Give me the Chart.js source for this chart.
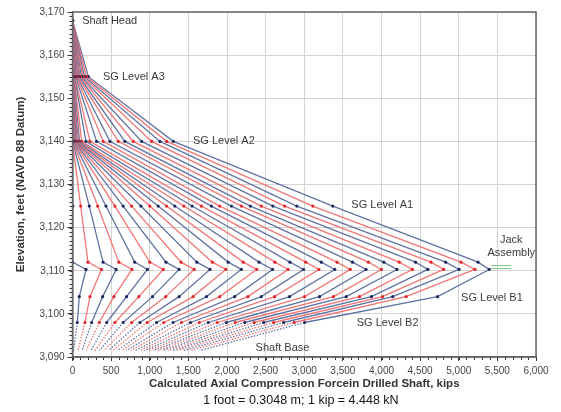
<!DOCTYPE html>
<html>
<head>
<meta charset="utf-8">
<script src="https://cdn.jsdelivr.net/npm/chart.js@4.4.0/dist/chart.umd.min.js"></script>
<style>
  html, body { margin: 0; padding: 0; background: #fff; }
</style>
</head>
<body>
<canvas id="myChart" width="561" height="412"></canvas>
<script>
// elevation of each measuring level (feet): head, A3, A2, A1, jack top, jack bottom, B1, B2, base
const levelElevations = [3168, 3155, 3140, 3125, 3112, 3110.3, 3104, 3098, 3091.5];

// load at each level (kips), one value per load increment
const headLoad = [0, 0, 0, 0, 0, 0, 0, 0, 0, 0, 0, 0, 0, 0, 0, 0, 0, 0, 0, 0, 0, 0, 0, 0, 0, 0, 0];
const a3Load = [0, 0, 0, 0, 0, 0, 0, 0, 3, 5, 8, 10, 15, 20, 25, 30, 40, 50, 60, 70, 85, 100, 115, 135, 155, 180, 205];
const a2Load = [0, 0, 3, 6, 10, 16, 22, 30, 39, 49, 61, 75, 91, 119, 174, 226, 312, 398, 484, 592, 678, 786, 895, 1024, 1132, 1219, 1305];
const a1Load = [5, 106, 217, 326, 433, 549, 656, 765, 885, 1001, 1109, 1217, 1324, 1441, 1548, 1669, 1798, 1906, 2057, 2186, 2302, 2444, 2594, 2745, 2904, 3111, 3370];
const jackTopLoad = [0, 200, 395, 600, 805, 1000, 1210, 1405, 1610, 1810, 2015, 2210, 2415, 2620, 2815, 3020, 3220, 3425, 3625, 3830, 4030, 4230, 4440, 4640, 4830, 5030, 5250];
const jackBottomLoad = [175, 375, 565, 770, 970, 1175, 1380, 1575, 1780, 1985, 2185, 2385, 2590, 2790, 2990, 3190, 3395, 3595, 3800, 4000, 4200, 4400, 4600, 4805, 5005, 5210, 5395];
const b1Load = [88, 226, 390, 536, 700, 859, 1036, 1208, 1380, 1561, 1734, 1906, 2099, 2271, 2444, 2616, 2810, 3004, 3198, 3379, 3543, 3715, 3870, 4012, 4145, 4318, 4726];
const b2Load = [62, 161, 248, 346, 442, 549, 656, 765, 872, 966, 1088, 1182, 1302, 1410, 1527, 1641, 1757, 1873, 1990, 2106, 2229, 2351, 2474, 2603, 2733, 2868, 3004];
const baseLoad = [13, 71, 123, 181, 239, 291, 349, 407, 465, 523, 581, 640, 698, 756, 814, 872, 930, 988, 1047, 1105, 1169, 1234, 1298, 1363, 1440, 1531, 1647];

const xTicks = [0, 500, 1000, 1500, 2000, 2500, 3000, 3500, 4000, 4500, 5000, 5500, 6000];
const yTicks = [3090, 3100, 3110, 3120, 3130, 3140, 3150, 3160, 3170];

// text labels on the plot: [text, kips, elevation, align]
const labels = [
    ['Shaft Head', 125, 3168, 'left'],
    ['SG Level A3', 395, 3155, 'left'],
    ['SG Level A2', 1560, 3140, 'left'],
    ['SG Level A1', 3610, 3125.3, 'left'],
    ['Jack', 5680, 3117.2, 'center'],
    ['Assembly', 5680, 3114.2, 'center'],
    ['SG Level B1', 5030, 3103.8, 'left'],
    ['SG Level B2', 3680, 3097.8, 'left'],
    ['Shaft Base', 2370, 3092, 'left']
];

const narrow = '"Liberation Sans Narrow", "Arial Narrow", "Liberation Sans", Arial, sans-serif';
const regular = '"Liberation Sans", Arial, sans-serif';

const blueLine = 'rgba(88, 108, 156, 0.95)';
const redLine = 'rgba(242, 110, 110, 0.95)';
const blueDot = '#1c2a60';
const redDot = '#e4262a';

const datasets = headLoad.map(function (h, i) {
    const loads = [h, a3Load[i], a2Load[i], a1Load[i], jackTopLoad[i], jackBottomLoad[i], b1Load[i], b2Load[i], baseLoad[i]];
    const isBlue = i % 2 === 0;
    return {
        data: loads.map((x, k) => ({x: x, y: levelElevations[k]})),
        showLine: true,
        borderColor: isBlue ? blueLine : redLine,
        borderWidth: 1.3,
        pointRadius: [1.6, 1.6, 1.6, 1.6, 1.6, 1.6, 1.6, 1.6, 0],
        pointBackgroundColor: isBlue ? blueDot : redDot,
        pointBorderWidth: 0,
        segment: {
            borderDash: ctx => ctx.p1DataIndex === 8 ? [1.5, 1.5] : undefined
        }
    };
});

const extras = {
    id: 'extras',
    afterDraw(chart) {
        const ctx = chart.ctx;
        const area = chart.chartArea;
        const xs = chart.scales.x;
        const ys = chart.scales.y;
        ctx.save();

        // minor ticks
        ctx.strokeStyle = '#333';
        ctx.lineWidth = 1;
        ctx.beginPath();
        for (let e = 3090; e <= 3170; e += 1) {
            const py = Math.round(ys.getPixelForValue(e)) + 0.5;
            ctx.moveTo(area.left - 3, py);
            ctx.lineTo(area.left, py);
        }
        for (let k = 0; k <= 6000; k += 100) {
            const px = Math.round(xs.getPixelForValue(k)) + 0.5;
            ctx.moveTo(px, area.bottom);
            ctx.lineTo(px, area.bottom + 3);
        }
        ctx.stroke();

        // frame
        ctx.strokeStyle = '#666';
        ctx.lineWidth = 1.5;
        ctx.strokeRect(area.left, area.top, area.right - area.left, area.bottom - area.top);

        // jack marker
        ctx.strokeStyle = '#7fc98a';
        ctx.lineWidth = 1;
        ctx.beginPath();
        const jx1 = xs.getPixelForValue(5420), jx2 = xs.getPixelForValue(5680);
        ctx.moveTo(jx1, 265.5); ctx.lineTo(jx2, 265.5);
        ctx.moveTo(jx1, 268.5); ctx.lineTo(jx2, 268.5);
        ctx.stroke();

        // annotations
        ctx.fillStyle = '#3a3a3a';
        ctx.font = '11px ' + regular;
        ctx.textBaseline = 'middle';
        labels.forEach(function (l) {
            ctx.textAlign = l[3];
            ctx.fillText(l[0], xs.getPixelForValue(l[1]), ys.getPixelForValue(l[2]));
        });

        // unit note
        ctx.fillStyle = '#111';
        ctx.font = '12.5px ' + regular;
        ctx.textAlign = 'center';
        ctx.fillText('1 foot = 0.3048 m; 1 kip = 4.448 kN', 301, 401);
        ctx.restore();
    }
};

const ctx = document.getElementById('myChart').getContext('2d');
const myChart = new Chart(ctx, {
    type: 'scatter',
    data: { datasets: datasets },
    options: {
        responsive: false,
        animation: false,
        layout: { padding: { left: 14, right: 25, top: 12, bottom: 17 } },
        plugins: {
            legend: { display: false },
            tooltip: { enabled: false }
        },
        scales: {
            x: {
                type: 'linear',
                min: 0,
                max: 6000,
                afterBuildTicks: s => { s.ticks = xTicks.map(v => ({value: v})); },
                afterFit: s => { s.height = 38; },
                ticks: {
                    padding: 4,
                    color: '#444',
                    font: { family: narrow, size: 10 },
                    maxRotation: 0,
                    callback: v => v.toLocaleString('en-US')
                },
                grid: { color: '#d4d4d4', tickColor: '#333', tickLength: 4 },
                border: { color: '#666', width: 1.5 },
                title: {
                    display: true,
                    text: 'Calculated Axial Compression Forcein Drilled Shaft, kips',
                    color: '#333',
                    font: { family: narrow, size: 11.5, weight: 'bold' },
                    padding: { top: 0, bottom: 4 }
                }
            },
            y: {
                type: 'linear',
                min: 3090,
                max: 3170,
                afterBuildTicks: s => { s.ticks = yTicks.map(v => ({value: v})); },
                afterFit: s => { s.width = 58.5; },
                ticks: {
                    padding: 3,
                    color: '#444',
                    font: { family: narrow, size: 10 },
                    callback: v => v.toLocaleString('en-US')
                },
                grid: { color: '#d4d4d4', tickColor: '#333', tickLength: 5 },
                border: { color: '#666', width: 1.5 },
                title: {
                    display: true,
                    text: 'Elevation, feet (NAVD 88 Datum)',
                    color: '#333',
                    font: { family: narrow, size: 11.5, weight: 'bold' },
                    padding: { top: 0, bottom: 0 }
                }
            }
        }
    },
    plugins: [extras]
});
</script>
</body>
</html>
